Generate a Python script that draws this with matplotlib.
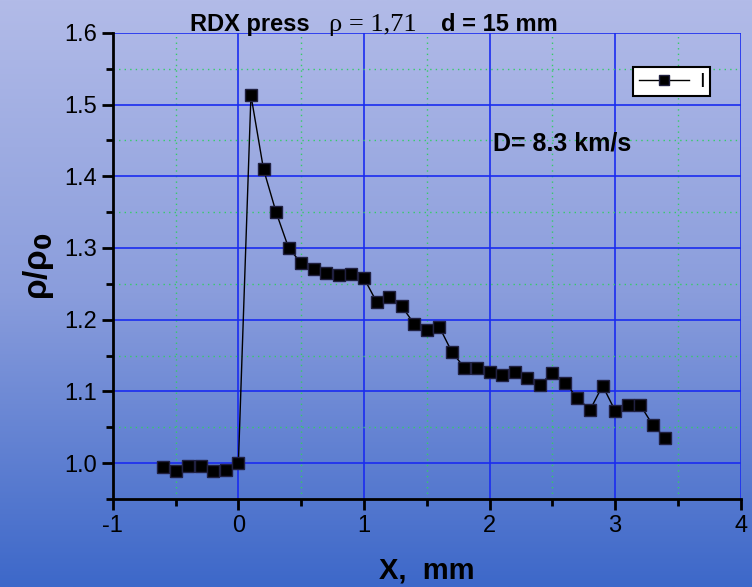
import numpy as np
import matplotlib
matplotlib.use("Agg")
import matplotlib.pyplot as plt
from matplotlib.colors import LinearSegmentedColormap
from matplotlib.ticker import MultipleLocator

# measured profile, RDX press
x_mm = [-0.6, -0.5, -0.4, -0.3, -0.2, -0.1, 0.0, 0.1, 0.2, 0.3, 0.4, 0.5, 0.6,
        0.7, 0.8, 0.9, 1.0, 1.1, 1.2, 1.3, 1.4, 1.5, 1.6, 1.7, 1.8, 1.9, 2.0,
        2.1, 2.2, 2.3, 2.4, 2.5, 2.6, 2.7, 2.8, 2.9, 3.0, 3.1, 3.2, 3.3, 3.4]
rho_ratio = [0.994, 0.989, 0.996, 0.996, 0.989, 0.990, 1.000, 1.513, 1.410,
             1.350, 1.300, 1.279, 1.270, 1.265, 1.262, 1.264, 1.258, 1.225,
             1.231, 1.219, 1.194, 1.186, 1.190, 1.155, 1.133, 1.133, 1.127,
             1.123, 1.127, 1.119, 1.109, 1.126, 1.112, 1.091, 1.074, 1.108,
             1.073, 1.081, 1.081, 1.053, 1.035]

plt.rcParams['font.family'] = ['Liberation Sans', 'DejaVu Sans']
plt.rcParams['axes.unicode_minus'] = False

fig = plt.figure(figsize=(7.52, 5.87), dpi=100)

# gradient background
bg = fig.add_axes([0, 0, 1, 1], zorder=-10)
cmap = LinearSegmentedColormap.from_list("bg", ["#b2bbe8", "#8a9ddc", "#3d68c9"])
bg.imshow(np.linspace(0, 1, 256).reshape(-1, 1), aspect='auto', cmap=cmap,
          extent=[0, 1, 0, 1])
bg.axis('off')

ax = fig.add_axes([0.150, 0.150, 0.835, 0.794])
ax.patch.set_alpha(0)

ax.plot(x_mm, rho_ratio, color='black', lw=1, marker='s', ms=9,
        mfc='black', mec='#202040', label='I', zorder=3)

ax.set_xlim(-1, 4)
ax.set_ylim(0.95, 1.6)
ax.xaxis.set_major_locator(MultipleLocator(1))
ax.xaxis.set_minor_locator(MultipleLocator(0.5))
ax.yaxis.set_major_locator(MultipleLocator(0.1))
ax.yaxis.set_minor_locator(MultipleLocator(0.05))
ax.set_yticks([1.0, 1.1, 1.2, 1.3, 1.4, 1.5, 1.6])
ax.set_yticklabels(['1.0', '1.1', '1.2', '1.3', '1.4', '1.5', '1.6'])

ax.grid(which='major', color='#1a2cf0', lw=1.2)
ax.grid(which='minor', color='#33cc66', lw=1, ls=(0, (1, 3)))
ax.set_axisbelow(True)

for s in ['top', 'right']:
    ax.spines[s].set_visible(False)
for s in ['left', 'bottom']:
    ax.spines[s].set_linewidth(2)
ax.tick_params(which='major', direction='out', length=8, width=2,
               labelsize=17, colors='black')
ax.tick_params(which='minor', direction='out', length=5, width=2)

ax.set_xlabel('X,  mm', fontsize=21, fontweight='bold', labelpad=14)
ax.set_ylabel(r'ρ/ρ$_\mathbf{0}$', fontsize=24, fontweight='bold', labelpad=6)

fig.text(0.253, 0.958, 'RDX press', fontsize=17, fontweight='bold', va='center')
fig.text(0.437, 0.958, 'ρ = 1,71', fontsize=19, va='center',
         family='Liberation Serif')
fig.text(0.587, 0.958, 'd = 15 mm', fontsize=17, fontweight='bold', va='center')

ax.text(0.655, 0.755, 'D= 8.3 km/s', transform=fig.transFigure,
        fontsize=18, fontweight='bold', va='center')

leg = ax.legend(loc='upper right', bbox_to_anchor=(0.944, 0.886),
                bbox_transform=fig.transFigure, borderaxespad=0, fontsize=15,
                handlelength=2.4, handletextpad=0.5, borderpad=0.25,
                fancybox=False, framealpha=1, edgecolor='black',
                markerscale=0.75)
leg.get_frame().set_linewidth(1.5)

fig.savefig('out.png', dpi=100)
